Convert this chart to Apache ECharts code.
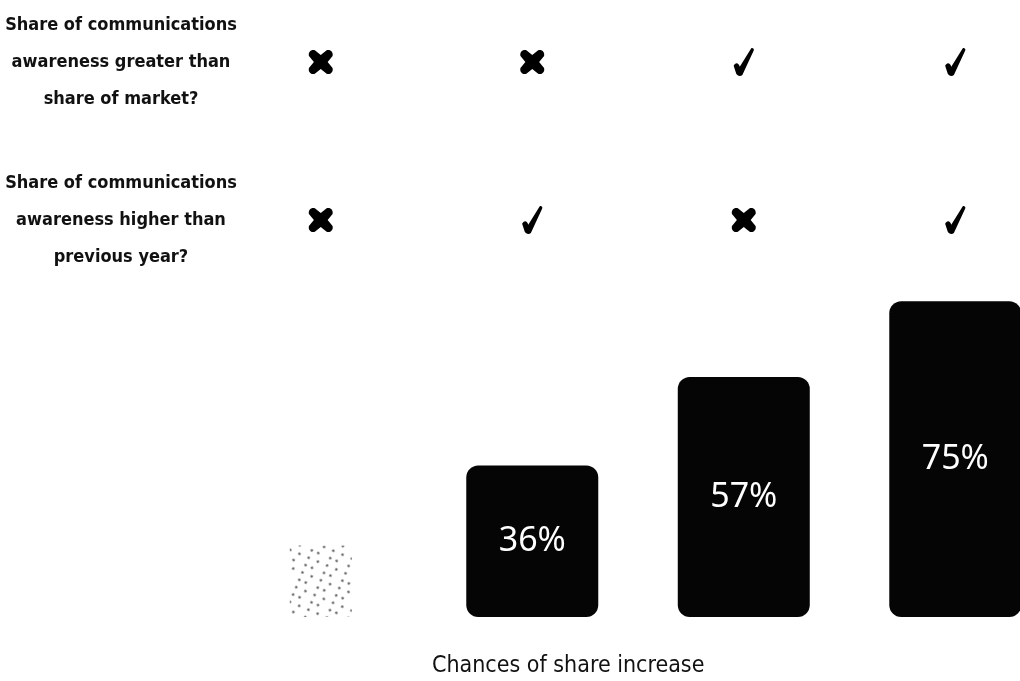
<!DOCTYPE html>
<html>
<head>
<meta charset="utf-8">
<title>Chances of share increase</title>
<script src="https://cdn.jsdelivr.net/npm/echarts@6/dist/echarts.min.js"></script>
<style>
  html, body { margin: 0; padding: 0; background: #ffffff; }
  #chart { width: 1020px; height: 681px; }
</style>
</head>
<body>
<div id="chart"></div>
<script>
// Brand groups, one column each (column position = index)
const groups = ['Neither', 'Higher than previous year', 'Greater than share of market', 'Both'];

// Questions shown as row headings above the bars
const rowQuestions = [
  'Share of communications\nawareness greater than\nshare of market?',
  'Share of communications\nawareness higher than\nprevious year?'
];

// Answers per group (true = tick, false = cross)
const greaterThanMarket = [false, false, true, true];
const higherThanPreviousYear = [false, true, false, true];

// Chance of share increase (%) per group; the first one is unlabelled
const shareIncreaseChance = [17, 36, 57, 75];

const TEXT_FONT = '"DejaVu Sans Condensed", "Liberation Sans Narrow", "DejaVu Sans", sans-serif';

// Column axis: one unit per group; the last column runs off the right edge
const X_MIN = -0.5;
const X_MAX = 3.306;

// Brush-style tick and heavy rounded cross glyphs
const TICK_PATH = 'path://M0 18 C2 14 6 15 7 19 L20 1 C21 0 24 1 23 3 L10 27 C8 29 4 28 3 26 Z';
const CROSS_PATH = 'path://M0 6 C-1 2 2 -1 6 0 L12 5 L18 0 C22 -1 25 2 24 6 L19 12 L24 18 C25 22 22 25 18 24 L12 19 L6 24 C2 25 -1 22 0 18 L5 12 Z';

// Tick/cross points: [group, row, answer]
const answerPoints = [];
[greaterThanMarket, higherThanPreviousYear].forEach((answers, row) => {
  answers.forEach((ok, g) => answerPoints.push([g, row, ok ? 1 : 0]));
});

// Labelled solid bars and the faint stippled first bar
const solidBars = shareIncreaseChance.map((v, i) => i === 0 ? [i, null] : [i, v]);
const stippleBars = shareIncreaseChance.map((v, i) => i === 0 ? [i, v] : [i, null]);

const chart = echarts.init(document.getElementById('chart'), null, { renderer: 'canvas' });

const columnAxis = (gridIndex) => ({
  type: 'value', gridIndex, min: X_MIN, max: X_MAX, show: false
});

chart.setOption({
  backgroundColor: '#ffffff',
  animation: false,
  title: {
    text: 'Chances of share increase',
    left: 427,
    top: 650,
    textStyle: { fontFamily: TEXT_FONT, fontSize: 23, fontWeight: 'normal', color: '#111' }
  },
  grid: [
    { left: 215, right: 0, top: 196, height: 421 },
    { left: 215, right: 0, top: 62, height: 158 }
  ],
  xAxis: [columnAxis(0), columnAxis(1), columnAxis(0)],
  yAxis: [
    { type: 'value', gridIndex: 0, min: 0, max: 100, show: false },
    {
      type: 'category',
      gridIndex: 1,
      data: rowQuestions,
      inverse: true,
      boundaryGap: false,
      axisLine: { show: false },
      axisTick: { show: false },
      splitLine: { show: false },
      axisLabel: {
        align: 'center',
        margin: 94,
        fontFamily: TEXT_FONT,
        fontSize: 18,
        fontWeight: 'bold',
        lineHeight: 37,
        color: '#111'
      }
    }
  ],
  series: [
    {
      type: 'bar',
      xAxisIndex: 0,
      yAxisIndex: 0,
      data: solidBars,
      barWidth: 132,
      clip: true,
      itemStyle: { color: '#050505', borderRadius: 12 },
      label: {
        show: true,
        position: 'inside',
        formatter: p => p.data[1] + '%',
        color: '#ffffff',
        fontFamily: '"Noto Sans", "Open Sans", sans-serif',
        fontSize: 34
      }
    },
    {
      type: 'bar',
      xAxisIndex: 2,
      yAxisIndex: 0,
      data: stippleBars,
      barWidth: 62,
      itemStyle: {
        color: 'rgba(255,255,255,0)',
        decal: {
          symbol: 'circle',
          symbolSize: 0.8,
          color: 'rgba(20,20,20,0.7)',
          dashArrayX: [[3, 7], [3, 4, 3, 10]],
          dashArrayY: [3, 5],
          rotation: 0.4
        }
      },
      label: { show: false }
    },
    {
      type: 'scatter',
      xAxisIndex: 1,
      yAxisIndex: 1,
      clip: false,
      data: answerPoints,
      symbol: (value) => value[2] ? TICK_PATH : CROSS_PATH,
      symbolSize: (value) => value[2] ? [24, 28] : [24, 24],
      symbolKeepAspect: true,
      itemStyle: { color: '#000', opacity: 1 }
    }
  ]
});
</script>
</body>
</html>
